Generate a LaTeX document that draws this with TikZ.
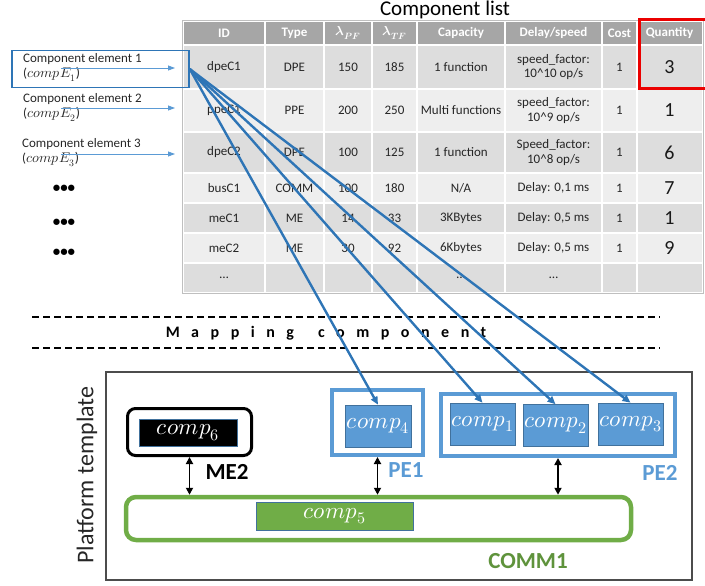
\documentclass[tikz,border=0pt]{standalone}
\usepackage{amsmath}
\usepackage{fontspec}
\usepackage{unicode-math}
\setmainfont{Carlito}
\setmathfont{Latin Modern Math}
\usetikzlibrary{arrows.meta, positioning, calc}
\definecolor{hdrGray}{RGB}{166,166,166}
\definecolor{rowDark}{RGB}{221,221,221}
\definecolor{rowLight}{RGB}{238,238,238}
\definecolor{pfBlue}{RGB}{91,155,213}
\definecolor{lnBlue}{RGB}{46,117,182}
\definecolor{edgeBlue}{RGB}{65,113,156}
\definecolor{pfGreen}{RGB}{112,173,71}
\definecolor{qtyRed}{RGB}{235,0,0}

\begin{document}
\begin{tikzpicture}[
        x=1pt,
        y=-1pt,
        cell/.style={font=\fontsize{13}{14.5}\selectfont, text=black!85, align=center, inner sep=0pt},
        headcell/.style={font=\bfseries\fontsize{13}{15}\selectfont, text=white, inner sep=0pt},
        qtycell/.style={font=\fontsize{20}{22}\selectfont, text=black!90, inner sep=0pt},
        srclabel/.style={font=\fontsize{13}{15.5}\selectfont, text=black!85, align=left, anchor=north west, inner sep=0pt},
        moredots/.style={font=\bfseries\fontsize{15}{16}\selectfont, inner sep=0pt},
        feed/.style={draw=pfBlue, line width=0.8pt, -{Triangle[length=7pt,width=5pt]}},
        mapline/.style={draw=lnBlue, line width=2.4pt, -{Triangle[length=8pt,width=7pt]}},
        pebox/.style={draw=pfBlue, line width=4pt, inner sep=0pt},
        compbox/.style={draw=edgeBlue, fill=pfBlue, line width=0.6pt, text=white, font=\fontsize{23}{24}\selectfont, inner sep=0pt},
        link/.style={black, line width=1.8pt, {Triangle[length=7pt,width=7pt]}-{Triangle[length=7pt,width=7pt]}},
        tag/.style={font=\bfseries\fontsize{23}{25}\selectfont, inner sep=0pt}
    ]
        \useasboundingbox (0,0) rectangle (705,586);

        % component list
        \node[font=\fontsize{21}{23}\selectfont, inner sep=0pt] (title) at (445,10) {Component list};
        \foreach \yt/\yb/\shade in {21/45/hdrGray,45/89/rowDark,89/132/rowLight,132/173/rowDark,173/203/rowLight,203/233/rowDark,233/263/rowLight,263/293/rowDark} {
            \foreach \xl/\xr in {183/265,265/324,324/372,372/417,417/505,505/602,602/637,637/703} {
                \fill[\shade] (\xl+1,\yt+1) rectangle (\xr-1,\yb-1);
            }
        }
        \draw[black!25, line width=0.8pt] (182.5,20.5) rectangle (703.5,293.5);

        \foreach \x/\h [count=\c] in {224/ID,294.5/Type,348/{$\symbfit{\lambda}_{\symbfit{PF}}$},394.5/{$\symbfit{\lambda}_{\symbfit{TF}}$},461/Capacity,553.5/{Delay/speed},619.5/Cost,669.5/Quantity} {
            \node[headcell] (head-\c) at (\x,33) {\h};
        }

        \foreach \y/\id/\type/\pf/\tf/\cap/\dly/\cost/\qty [count=\r] in {
            67/dpeC1/DPE/150/185/{1 function}/{speed\_factor:\\10\textasciicircum10 op/s}/1/3,
            110.5/ppeC1/PPE/200/250/{Multi functions}/{speed\_factor:\\10\textasciicircum9 op/s}/1/1,
            152.5/dpeC2/DPE/100/125/{1 function}/{Speed\_factor:\\10\textasciicircum8 op/s}/1/6,
            188/busC1/COMM/100/180/{N/A}/{Delay: 0,1 ms}/1/7,
            218/meC1/ME/14/33/3KBytes/{Delay: 0,5 ms}/1/1,
            248/meC2/ME/30/92/6Kbytes/{Delay: 0,5 ms}/1/9,
            278/…/ / / /…/…/ / } {
            \node[cell] (id-\r) at (224,\y) {\id};
            \node[cell] (type-\r) at (294.5,\y) {\type};
            \node[cell] (pf-\r) at (348,\y) {\pf};
            \node[cell] (tf-\r) at (394.5,\y) {\tf};
            \node[cell] (cap-\r) at (461,\y) {\cap};
            \node[cell] (dly-\r) at (553.5,\y) {\dly};
            \node[cell] (cost-\r) at (619.5,\y) {\cost};
            \node[qtycell] (qty-\r) at (669.5,\y) {\qty};
        }
        \draw[qtyRed, line width=3pt] (639.5,19.5) rectangle (708,88.5);

        % component elements
        \node[srclabel] (lab1) at (23,53) {Component element 1\\(\fontsize{14}{15.5}\selectfont$compE_1$)};
        \node[srclabel] (lab2) at (23,93) {Component element 2\\(\fontsize{14}{15.5}\selectfont$compE_2$)};
        \node[srclabel] (lab3) at (22,138) {Component element 3\\(\fontsize{14}{15.5}\selectfont$compE_3$)};
        \node[draw=lnBlue, line width=1.5pt, minimum width=177pt, minimum height=37pt, inner sep=0pt] (srcbox) at (100.5,69) {};
        \foreach \n/\y in {1/68,2/108,3/154} {
            \coordinate (feedS\n) at (61,\y);
            \coordinate (feedE\n) at (175,\y);
            \draw[feed] (feedS\n) -- (feedE\n);
        }
        \node[moredots] (more1) at (64,189) {•••};
        \node[moredots] (more2) at (64,223) {•••};
        \node[moredots] (more3) at (64,253) {•••};

        % mapping
        \draw[line width=1.2pt, dash pattern=on 7pt off 4pt] (32,317) -- (660,317);
        \draw[line width=1.2pt, dash pattern=on 7pt off 4pt] (32,348) -- (660,348);
        \node[font=\bfseries\fontsize{16}{18}\selectfont\addfontfeature{LetterSpace=72}, inner sep=0pt] (maptitle) at (326,333) {Mapping\hspace{24pt}component};

        % platform template
        \draw[black!70, line width=1.5pt] (106,372) rectangle (692,580);
        \node[rotate=90, font=\fontsize{24}{26}\selectfont, text=black!85, inner sep=0pt] (plat) at (87,475) {Platform template};

        \node[draw=black, line width=3pt, rounded corners=8pt, minimum width=124pt, minimum height=47pt] (me2box) at (189.5,432) {};
        \node[compbox, fill=black, minimum width=98pt, minimum height=27pt] (comp6) at (188,432.5) {$comp_6$};
        \node[tag, text=black] (me2) at (227,472) {ME2};

        \node[pebox, minimum width=91pt, minimum height=65pt] (pe1box) at (377.5,422.5) {};
        \node[compbox, minimum width=66pt, minimum height=42pt] (comp4) at (378,426) {$comp_4$};
        \node[tag, text=pfBlue] (pe1) at (406,470) {PE1};

        \node[pebox, minimum width=234pt, minimum height=62pt] (pe2box) at (558,425) {};
        \node[compbox, minimum width=65pt, minimum height=42pt] (comp1) at (482.5,424) {$comp_1$};
        \node[compbox, minimum width=65pt, minimum height=42pt] (comp2) at (555.5,425.5) {$comp_2$};
        \node[compbox, minimum width=65pt, minimum height=42pt] (comp3) at (630.5,424) {$comp_3$};
        \node[tag, text=pfBlue] (pe2) at (660,473) {PE2};

        \node[draw=pfGreen, line width=4.5pt, rounded corners=10pt, minimum width=505pt, minimum height=43pt] (comm1) at (378.5,518.5) {};
        \node[compbox, fill=pfGreen, minimum width=157pt, minimum height=28pt] (comp5) at (334.5,516) {$comp_5$};
        \node[tag, text=pfGreen!85!black] (commtag) at (528,561) {COMM1};

        \draw[link] (me2box.south) -- (me2box.south |- comm1.north);
        \draw[link] (pe1box.south) -- (pe1box.south |- comm1.north);
        \draw[link] (pe2box.south) -- (pe2box.south |- comm1.north);

        % mapping arrows
        \foreach \c in {comp4,comp1,comp2,comp3} {
            \draw[mapline] (srcbox.east) -- (\c.north);
        }
    \end{tikzpicture}
\end{document}
